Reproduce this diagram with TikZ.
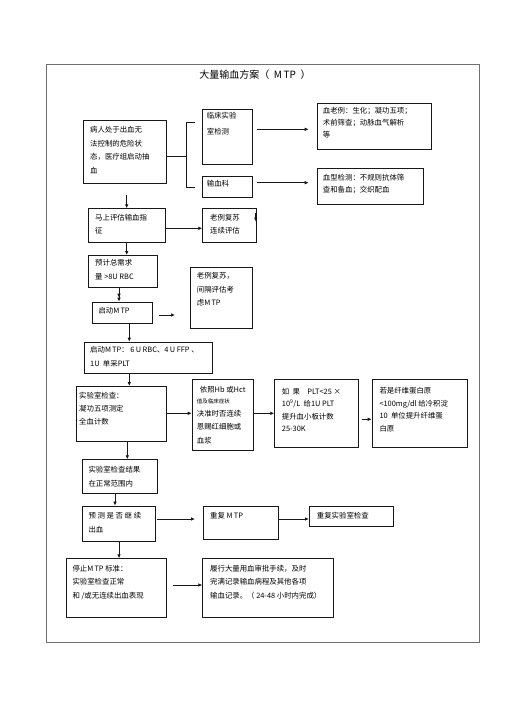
\documentclass[tikz,border=0pt]{standalone}
\usepackage{fontspec}
\setmainfont{Noto Sans CJK SC}
\usetikzlibrary{arrows.meta}
\definecolor{mtpcolor0001}{RGB}{112,112,112}
\definecolor{mtpcolor0002}{RGB}{24,24,24}
\begin{document}
\begin{tikzpicture}[x=1pt,y=-1pt
,pstyle0/.style={draw=mtpcolor0002,line width=0.9pt,anchor=north west,inner sep=0,fill=white}
,pstyle1/.style={anchor=north west,inner sep=0,align=left,color=black,font=\fontsize{7.4}{13.5}\selectfont}
,pstyle2/.style={color=mtpcolor0002,line width=0.9pt,-{Latex[length=4pt,width=3.6pt]}}
,pstyle3/.style={color=mtpcolor0001,line width=0.9pt}
,pstyle4/.style={color=mtpcolor0002,line width=0.9pt}
]
\useasboundingbox (0,0) rectangle (505,714);
\draw[pstyle3] (46,64.3) rectangle (479,642.7);
\node (title) at (255,75) [font=\fontsize{10}{12}\selectfont]{大量输血方案（\ \ M\,TP\ \ ）};
% boxes
\node[pstyle0,minimum width=82.4pt,minimum height=62.4pt] (patient) at (83.3,120.3) {};
\node[pstyle0,minimum width=50pt,minimum height=55pt] (lab) at (202.3,109.3) {};
\node[pstyle0,minimum width=114pt,minimum height=45.7pt] (labitems) at (316.7,103.3) {};
\node[pstyle0,minimum width=50pt,minimum height=21.3pt] (bank) at (202.3,176) {};
\node[pstyle0,minimum width=106.6pt,minimum height=36pt] (bankitems) at (316.7,168.3) {};
\node[pstyle0,minimum width=76.7pt,minimum height=33.4pt] (assess) at (88.3,208.3) {};
\node[pstyle0,minimum width=53.4pt,minimum height=33.4pt] (resus) at (202.3,208.3) {};
\node[pstyle0,minimum width=69pt,minimum height=32.3pt] (estimate) at (88.3,255) {};
\node[pstyle0,minimum width=60.6pt,minimum height=21pt] (start) at (91.7,301.7) {};
\node[pstyle0,minimum width=61.7pt,minimum height=61pt] (resusmtp) at (190,267.3) {};
\node[pstyle0,minimum width=128pt,minimum height=31.6pt] (dose) at (84.3,341.7) {};
\node[pstyle0,minimum width=90pt,minimum height=55pt] (labtest) at (76,386) {};
\node[pstyle0,minimum width=61.6pt,minimum height=70.7pt] (hb) at (191.7,379.3) {};
\node[pstyle0,minimum width=84pt,minimum height=68pt] (plt) at (274.3,379.3) {};
\node[pstyle0,minimum width=95pt,minimum height=68pt] (fib) at (371.7,379.3) {};
\node[pstyle0,minimum width=75.6pt,minimum height=33.4pt] (normal) at (81.7,459.3) {};
\node[pstyle0,minimum width=73.3pt,minimum height=35.3pt] (predict) at (81.7,505.7) {};
\node[pstyle0,minimum width=75.6pt,minimum height=33.3pt] (repeat) at (202.7,505.7) {};
\node[pstyle0,minimum width=84.3pt,minimum height=20.3pt] (relab) at (309,505.7) {};
\node[pstyle0,minimum width=100pt,minimum height=59pt] (stop) at (65.7,558.3) {};
\node[pstyle0,minimum width=130.4pt,minimum height=59pt] (record) at (202.3,558.3) {};
% texts
\node[pstyle1] (patient-t) at (90,126.3) {病人处于出血无\\法控制的危险状\\态，医疗组启动抽\\血};
\node[pstyle1,font=\fontsize{7.4}{15.5}\selectfont] (lab-t) at (206.7,112.3) {临床实验\\室检测};
\node[pstyle1,font=\fontsize{7.4}{12.2}\selectfont] (labitems-t) at (322.7,107) {血老例：生化；凝功五项；\\术前筛查；动脉血气解析\\等};
\node[pstyle1] (bank-t) at (206.7,180.3) {输血科};
\node[pstyle1,font=\fontsize{7.4}{12}\selectfont] (bankitems-t) at (322.7,173.6) {血型检测：不规则抗体筛\\查和备血；交织配血};
\node[pstyle1] (assess-t) at (95,213.6) {马上评估输血指\\征};
\node[pstyle1] (resus-t) at (210,213.6) {老例复苏\\连续评估};
\node[pstyle1,font=\fontsize{7.4}{14}\selectfont] (estimate-t) at (95,259) {预计总需求\\量 >8U RBC};
\node[pstyle1] (start-t) at (98.3,307) {启动M\,TP};
\node[pstyle1] (resusmtp-t) at (196.7,272.3) {老例复苏，\\间隔评估考\\虑M\,TP};
\node[pstyle1,font=\fontsize{7.4}{13.3}\selectfont] (dose-t) at (90,346.3) {启动M\,TP：\ 6\,U RBC、4\,U FFP 、\\1U\ \ 单采PLT};
\node[pstyle1,font=\fontsize{7.4}{12.8}\selectfont] (labtest-t) at (79,392.3) {实验室检查：\\凝功五项测定\\全血计数};
\node[pstyle1] (hb-t) at (196.7,385.6) {\hspace*{3pt}依照Hb 或Hct\\[-2pt]{\fontsize{5.5}{6}\selectfont 值及临床症状}\\[-1pt]决准时否连续\\恩赐红细胞或\\血浆};
\node[pstyle1,font=\fontsize{7.4}{12.5}\selectfont] (plt-t) at (281.7,388) {如\ \ 果\quad PLT<25 ×\\10\textsuperscript{9}/L\ \ 给1U PLT\\提升血小板计数\\25-30K};
\node[pstyle1,font=\fontsize{7.4}{12.6}\selectfont] (fib-t) at (379.3,387.3) {若是纤维蛋白原\\<100mg/dl 给冷积淀\\10\ \ 单位提升纤维蛋\\白原};
\node[pstyle1,font=\fontsize{7.4}{14}\selectfont] (normal-t) at (88.3,465.6) {实验室检查结果\\在正常范围内};
\node[pstyle1,font=\fontsize{7.4}{14.3}\selectfont] (predict-t) at (88.3,512) {预\ 测\ 是\ 否\ 继\ 续\\出血};
\node[pstyle1] (repeat-t) at (210,512) {重复\ M\,TP};
\node[pstyle1] (relab-t) at (316.7,512) {重复实验室检查};
\node[pstyle1] (stop-t) at (72.3,564.6) {停止M\,TP 标准：\\实验室检查正常\\和 /或无连续出血表现};
\node[pstyle1] (record-t) at (210,564.6) {履行大量用血审批手续，及时\\完满记录输血病程及其他各项\\输血记录。（ 24-48 小时内完成）};
% connectors
\coordinate (brk) at (186.7,156.7);
\draw[pstyle4] (patient.east |- brk) -- (brk);
\draw[pstyle4] (195,122.7) -- (186.7,122.7) -- (186.7,187.7) -- (195,187.7);
\coordinate (a1) at (256.7,129.3);
\draw[pstyle2] (a1) -- ([shift={(-8,0)}]a1 -| labitems.west);
\coordinate (a2) at (256.7,182.7);
\draw[pstyle2] (a2) -- ([shift={(-8,0)}]a2 -| bankitems.west);
\coordinate (a3) at (126.7,195);
\draw[pstyle2] (a3) -- (a3 |- assess.north);
\draw[pstyle2] (assess.east |- 0,228.3) -- (resus.west |- 0,228.3);
\coordinate (a4) at (255.7,213);
\draw[pstyle2] (a4) -- ++(0,8.5);
\draw[pstyle2] (assess.south -| 126.7,0) -- (estimate.north -| 126.7,0);
\draw[pstyle4,-{Latex[length=4pt,width=3.6pt]Latex[length=4pt,width=3.6pt]}] (estimate.south -| 119,0) -- (start.north -| 119,0);
\coordinate (a5) at (159.3,315);
\draw[pstyle2] (a5) -- ++(15.7,0);
\draw[pstyle2] (start.south -| 129.3,0) -- (dose.north -| 129.3,0);
\draw[pstyle2] (dose.south -| 129.3,0) -- (labtest.north -| 129.3,0);
\draw[pstyle2] (labtest.east |- 0,413.3) -- (hb.west |- 0,413.3);
\draw[pstyle2] (hb.east |- 0,413.3) -- (plt.west |- 0,413.3);
\coordinate (a6) at (361.7,419.3);
\draw[pstyle2] (a6) -- (a6 -| fib.west);
\draw[pstyle2] (labtest.south -| 127.3,0) -- (normal.north -| 127.3,0);
\draw[pstyle2] (normal.south -| 115,0) -- (predict.north -| 115,0);
\coordinate (a7) at (157.3,519);
\draw[pstyle2] (a7) -- ([shift={(-7.7,0)}]a7 -| repeat.west);
\draw[pstyle2] (repeat.east |- 0,519) -- (relab.west |- 0,519);
\draw[pstyle2] (predict.south -| 119,0) -- (stop.north -| 119,0);
\coordinate (a8) at (172.7,585);
\draw[pstyle2] (a8) -- (a8 -| record.west);
\end{tikzpicture}
\end{document}
